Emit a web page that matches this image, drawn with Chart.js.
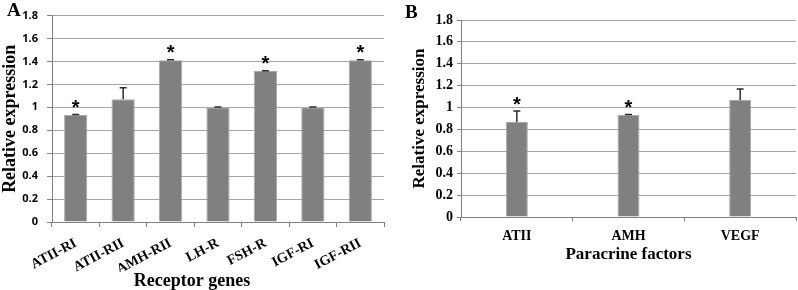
<!DOCTYPE html>
<html>
<head>
<meta charset="utf-8">
<script src="https://cdn.jsdelivr.net/npm/chart.js@4/dist/chart.umd.min.js"></script>
<style>
  html,body{margin:0;padding:0;background:#fff;}
  #wrap{position:relative;width:798px;height:290px;overflow:hidden;}
  .box{position:absolute;top:0;height:290px;}
  .lbl{position:absolute;font-family:"Liberation Serif",serif;font-weight:bold;font-size:19px;color:#000;line-height:1;}
</style>
</head>
<body>
<div id="wrap">
  <div class="box" style="left:0;width:386px;"><canvas id="cA" width="386" height="290"></canvas></div>
  <div class="box" style="left:398px;width:400px;"><canvas id="cB" width="400" height="290"></canvas></div>
  <div class="lbl" style="left:7px;top:0px;">A</div>
  <div class="lbl" style="left:405px;top:2px;">B</div>
</div>
<script>
// ---- data ----
const categoriesA = ['ATII-RI', 'ATII-RII', 'AMH-RII', 'LH-R', 'FSH-R', 'IGF-RI', 'IGF-RII'];
const valuesA = [0.934, 1.07, 1.41, 1.0, 1.316, 1.0, 1.41];
const errorsA = [0.004, 0.10, 0.004, 0.002, 0.004, 0.002, 0.004];
const significantA = [true, false, true, false, true, false, true];

const categoriesB = ['ATII', 'AMH', 'VEGF'];
const valuesB = [0.868, 0.934, 1.07];
const errorsB = [0.10, 0.003, 0.10];
const significantB = [true, true, false];

const yMin = 0, yMax = 1.8, yStep = 0.2;
const yTitle = 'Relative expression';
const xTitleA = 'Receptor genes';
const xTitleB = 'Paracrine factors';

// ---- error bars + significance stars drawn through the scales ----
const errStars = {
  id: 'errStars',
  afterDatasetsDraw(chart, args, opts) {
    const ctx = chart.ctx;
    const y = chart.scales.y;
    const meta = chart.getDatasetMeta(0);
    const data = chart.data.datasets[0].data;
    ctx.save();
    meta.data.forEach((bar, i) => {
      const v = data[i];
      const e = opts.errors[i];
      const yTop = y.getPixelForValue(v + e);
      const yBase = y.getPixelForValue(v);
      ctx.strokeStyle = '#2b2b2b';
      ctx.lineWidth = 1.5;
      ctx.beginPath();
      ctx.moveTo(bar.x, yBase);
      ctx.lineTo(bar.x, yTop);
      ctx.moveTo(bar.x - 3.5, yTop);
      ctx.lineTo(bar.x + 3.5, yTop);
      ctx.stroke();
      if (opts.sig[i]) {
        ctx.fillStyle = '#000';
        ctx.font = 'bold 20px "Liberation Sans", Arial, sans-serif';
        ctx.textAlign = 'center';
        ctx.textBaseline = 'alphabetic';
        ctx.fillText('*', bar.x, yTop - 0.5);
      }
    });
    ctx.restore();
  }
};

const fmt = v => String(Number(v.toFixed(1)));
const gridColor = '#a6a6a6';
const axisColor = '#808080';
const barFill = '#808080';
const barEdge = '#a8a8a8';

// ---- Panel A ----
new Chart(document.getElementById('cA'), {
  type: 'bar',
  data: {
    labels: categoriesA,
    datasets: [{
      data: valuesA,
      backgroundColor: barFill,
      borderColor: barEdge,
      borderWidth: 1,
      categoryPercentage: 1,
      barPercentage: 0.49
    }]
  },
  plugins: [errStars],
  options: {
    responsive: false,
    animation: false,
    layout: { padding: { top: 15, right: 2, left: 0, bottom: 0 } },
    plugins: {
      legend: { display: false },
      tooltip: { enabled: false },
      title: {
        display: true,
        position: 'bottom',
        text: xTitleA,
        color: '#000',
        font: { family: '"Liberation Serif", serif', weight: 'bold', size: 18, lineHeight: 1 },
        padding: { top: 0, bottom: 0 }
      },
      errStars: { errors: errorsA, sig: significantA }
    },
    scales: {
      x: {
        grid: { offset: true, drawOnChartArea: false, drawTicks: true, tickLength: 5, color: axisColor },
        border: { color: axisColor, width: 1 },
        ticks: {
          color: '#000',
          autoSkip: false,
          minRotation: 28, maxRotation: 28,
          padding: 8,
          font: { family: '"Liberation Serif", serif', weight: 'bold', size: 14 }
        },
        afterFit(s) { s.height = 50; }
      },
      y: {
        min: yMin, max: yMax,
        grid: { color: gridColor, tickColor: axisColor, tickLength: 5 },
        border: { color: axisColor, width: 1 },
        ticks: {
          stepSize: yStep,
          color: '#000',
          padding: 9,
          font: { family: '"Open Sans", sans-serif', weight: 'bold', size: 11 },
          callback: v => fmt(v)
        },
        title: {
          display: true,
          text: yTitle,
          color: '#000',
          font: { family: '"Liberation Serif", serif', weight: 'bold', size: 18, lineHeight: 1 },
          padding: { top: 1, bottom: 0 }
        },
        afterFit(s) { s.width = 52; }
      }
    }
  }
});

// ---- Panel B ----
new Chart(document.getElementById('cB'), {
  type: 'bar',
  data: {
    labels: categoriesB,
    datasets: [{
      data: valuesB,
      backgroundColor: barFill,
      borderColor: barEdge,
      borderWidth: 1,
      categoryPercentage: 1,
      barPercentage: 0.197
    }]
  },
  plugins: [errStars],
  options: {
    responsive: false,
    animation: false,
    layout: { padding: { top: 20, right: 2, left: 0, bottom: 0 } },
    plugins: {
      legend: { display: false },
      tooltip: { enabled: false },
      errStars: { errors: errorsB, sig: significantB }
    },
    scales: {
      x: {
        grid: { offset: true, drawOnChartArea: false, drawTicks: true, tickLength: 4, color: axisColor },
        border: { color: axisColor, width: 1 },
        ticks: {
          color: '#000',
          autoSkip: false,
          maxRotation: 0,
          padding: 7,
          font: { family: '"Liberation Serif", serif', weight: 'bold', size: 14 }
        },
        title: {
          display: true,
          text: xTitleB,
          color: '#000',
          font: { family: '"Liberation Serif", serif', weight: 'bold', size: 17, lineHeight: 1 },
          padding: { top: 0, bottom: 27 }
        },
        afterFit(s) { s.height = 73; }
      },
      y: {
        min: yMin, max: yMax,
        grid: { color: gridColor, tickColor: axisColor, tickLength: 4 },
        border: { color: axisColor, width: 1 },
        ticks: {
          stepSize: yStep,
          color: '#000',
          padding: 4,
          font: { family: '"Liberation Serif", serif', weight: 'bold', size: 14 },
          callback: v => fmt(v)
        },
        title: {
          display: true,
          text: yTitle,
          color: '#000',
          font: { family: '"Liberation Serif", serif', weight: 'bold', size: 17, lineHeight: 1 },
          padding: { top: 13.5, bottom: 0 }
        },
        afterFit(s) { s.width = 63; }
      }
    }
  }
});
</script>
</body>
</html>
